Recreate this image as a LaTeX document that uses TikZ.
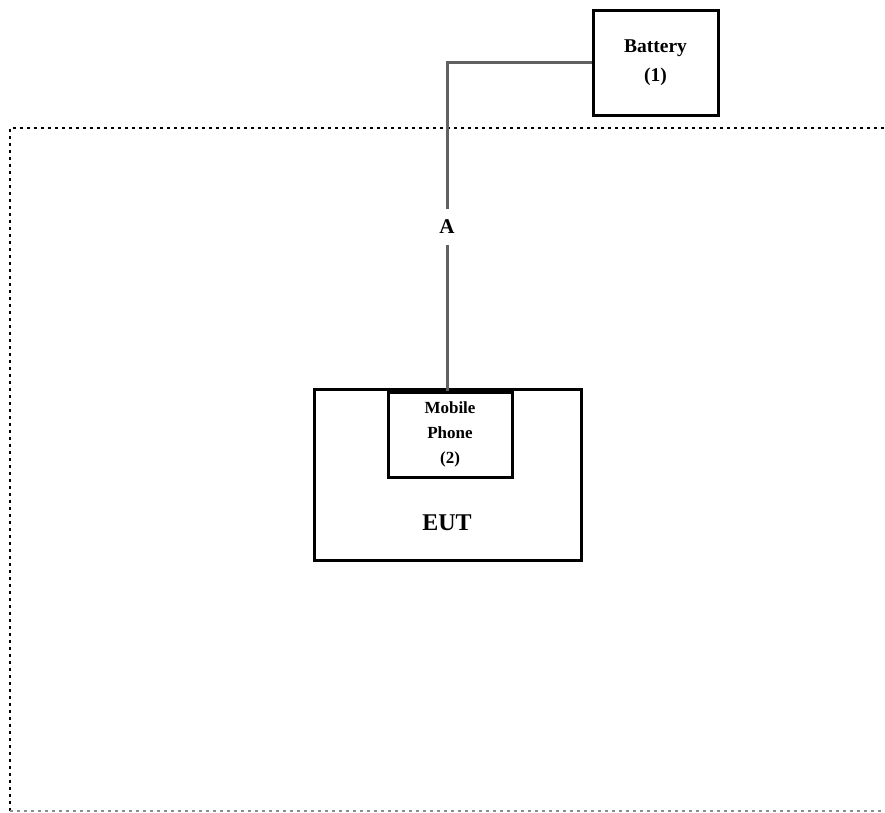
\documentclass[tikz,border=0pt]{standalone}
\usepackage{fontspec}
\setmainfont{Liberation Serif}
\begin{document}
\begin{tikzpicture}[x=1pt,y=-1pt,
  box/.style={draw=black,line width=3pt,fill=white,inner sep=0pt,align=center,font=\bfseries},
  wire/.style={draw=black!62,line width=3pt},
  border/.style={draw=black,line width=2.6pt,dash pattern=on 2.6pt off 4.4pt}
]
\useasboundingbox (0,0) rectangle (885,812);
\fill[white] (0,0) rectangle (885,812);
% dotted test area
\draw[border] (10,811) -- (10,128) -- (892,128);
\draw[border,draw=black!45] (10,811) -- (892,811);
% battery
\node[box,minimum width=125pt,minimum height=105pt,font=\bfseries\fontsize{19.5}{29}\selectfont] (bat) at (655.5,62.5) {Battery\\(1)};
% EUT
\node[box,minimum width=267pt,minimum height=171pt] (eut) at (447.5,474.5) {};
\node[font=\bfseries\fontsize{24}{26}\selectfont] (euttxt) at (447,523) {EUT};
% mobile phone
\node[box,minimum width=124pt,minimum height=85pt,font=\bfseries\fontsize{17}{25}\selectfont] (phone) at (450,434.5) {Mobile\\Phone\\(2)};
% label A
\node[inner sep=0pt,minimum height=36pt,font=\bfseries\fontsize{21}{22}\selectfont] (A) at (447,227) {A};
\draw[wire] (bat.west) -| (A.north);
\draw[wire] (A.south) -- (A.south |- phone.north);
\end{tikzpicture}
\end{document}
